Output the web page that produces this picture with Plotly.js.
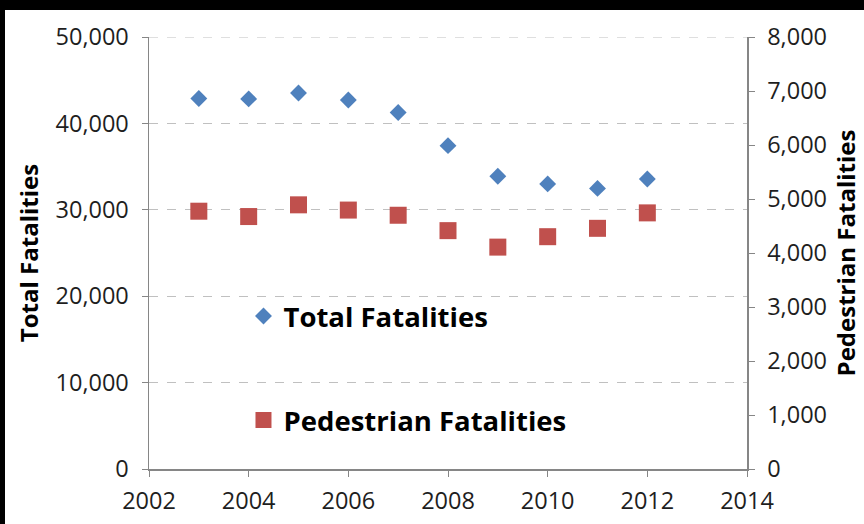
<!DOCTYPE html>
<html>
<head>
<meta charset="utf-8">
<script src="https://cdn.plot.ly/plotly-3.0.1.min.js"></script>
<style>
html,body{margin:0;padding:0;background:#fff;width:864px;height:524px;overflow:hidden;}
#chart{position:absolute;left:0;top:0;width:864px;height:524px;}
.strip{position:absolute;background:#000;z-index:10;}
</style>
</head>
<body>
<div id="chart"></div>
<div class="strip" style="left:0;top:0;width:864px;height:10px;"></div>
<div class="strip" style="left:0;top:0;width:5px;height:524px;"></div>
<script>
const years = [2003, 2004, 2005, 2006, 2007, 2008, 2009, 2010, 2011, 2012];
const totalFatalities = [42884, 42836, 43510, 42708, 41259, 37423, 33883, 32999, 32479, 33561];
const pedestrianFatalities = [4774, 4675, 4892, 4795, 4699, 4414, 4109, 4302, 4457, 4743];
const xTicks = [2002, 2004, 2006, 2008, 2010, 2012, 2014];
const leftTicks = [0, 10000, 20000, 30000, 40000, 50000];
const rightTicks = [0, 1000, 2000, 3000, 4000, 5000, 6000, 7000, 8000];

const tickFont = {family: 'Open Sans, sans-serif', size: 23.5, color: '#1e1e1e'};
const titleFont = {family: 'Open Sans, sans-serif', size: 24, color: '#000', weight: 'bold'};
const legendFont = {family: 'Open Sans, sans-serif', size: 27.5, color: '#000', weight: 'bold'};

const traces = [
  {
    type: 'scatter', mode: 'markers', name: 'Total Fatalities',
    x: years, y: totalFatalities, yaxis: 'y', legend: 'legend',
    marker: {symbol: 'diamond', size: 13, color: '#4F81BD'}
  },
  {
    type: 'scatter', mode: 'markers', name: 'Pedestrian Fatalities',
    x: years, y: pedestrianFatalities, yaxis: 'y2', legend: 'legend2',
    marker: {symbol: 'square', size: 17, color: '#C0504D'}
  }
];

const layout = {
  width: 864, height: 524,
  margin: {l: 149, r: 117, t: 37, b: 55},
  paper_bgcolor: '#fff', plot_bgcolor: '#fff',
  showlegend: true,
  xaxis: {
    range: [2002, 2014], tickvals: xTicks, ticktext: xTicks.map(String),
    showline: true, linecolor: '#868686', linewidth: 1.5,
    ticks: 'outside', ticklen: 6, tickcolor: '#868686',
    showgrid: false, zeroline: false, tickfont: tickFont, ticklabelstandoff: 4
  },
  yaxis: {
    range: [0, 50000], tickvals: leftTicks, tickformat: ',',
    showline: true, linecolor: '#868686', linewidth: 1.5,
    ticks: 'outside', ticklen: 6, tickcolor: '#868686',
    showgrid: true, gridcolor: '#c0c0c0', griddash: 'dash', gridwidth: 1,
    zeroline: false, tickfont: tickFont, ticklabelstandoff: 8,
    title: {text: 'Total Fatalities', font: titleFont, standoff: 10}
  },
  yaxis2: {
    range: [0, 8000], tickvals: rightTicks, tickformat: ',',
    overlaying: 'y', side: 'right',
    showline: true, linecolor: '#868686', linewidth: 1.5,
    ticks: 'outside', ticklen: 6, tickcolor: '#868686',
    showgrid: false, zeroline: false, tickfont: tickFont, ticklabelstandoff: 8,
    title: {text: 'Pedestrian Fatalities', font: titleFont, standoff: 12}
  },
  shapes: [
    {type: 'line', xref: 'paper', yref: 'y', x0: 0, x1: 1, y0: 50000, y1: 50000,
     line: {color: '#c0c0c0', width: 1, dash: 'dash'}, layer: 'below'}
  ],
  legend: {
    x: 0.158, y: 0.354, xanchor: 'left', yanchor: 'middle',
    bgcolor: 'rgba(0,0,0,0)', font: legendFont, itemwidth: 30
  },
  legend2: {
    x: 0.158, y: 0.113, xanchor: 'left', yanchor: 'middle',
    bgcolor: 'rgba(0,0,0,0)', font: legendFont, itemwidth: 30
  }
};

Plotly.newPlot('chart', traces, layout, {displayModeBar: false, staticPlot: true});
</script>
</body>
</html>
